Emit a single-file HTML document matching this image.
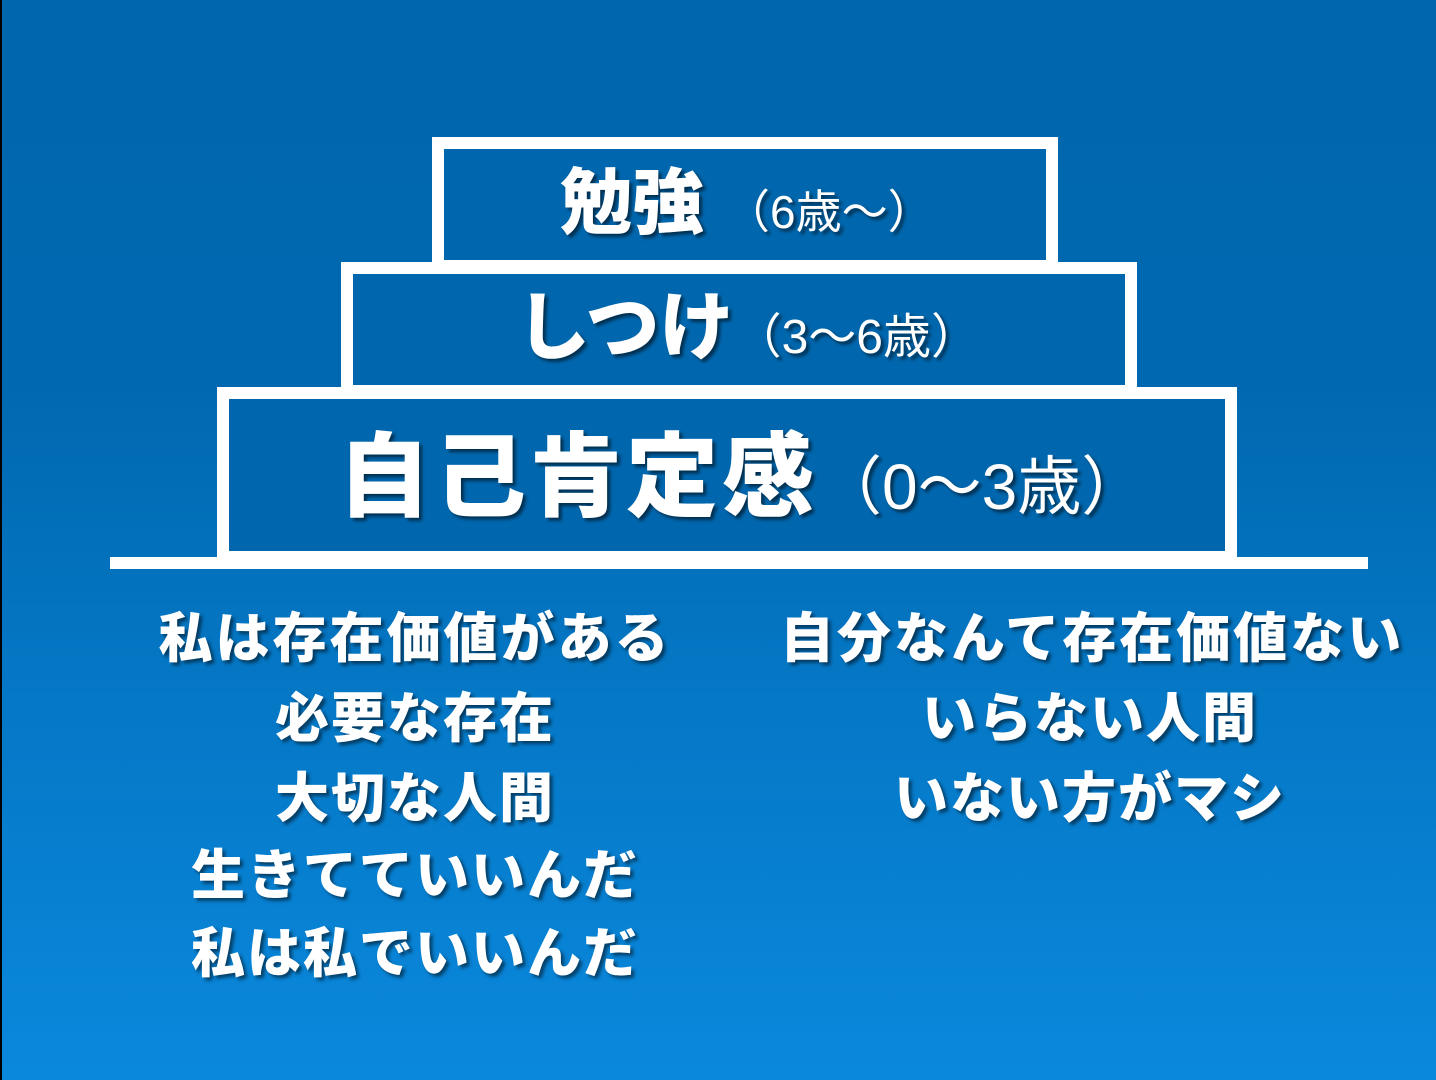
<!DOCTYPE html>
<html><head><meta charset="utf-8"><style>
body{margin:0;width:1436px;height:1080px;overflow:hidden;background:linear-gradient(180deg,#0067ae 0%,#0068b0 35%,#0578c6 65%,#0a88dc 100%);position:relative;font-family:"Liberation Sans","Noto Sans CJK JP",sans-serif;color:#fff}
.strip{position:absolute;left:0;top:0;width:2px;height:1080px;background:#000}
.box{position:absolute;border:12px solid #fff;background:#0067ae;box-sizing:border-box}
.t{position:absolute;white-space:nowrap;font-weight:900;text-shadow:3px 3px 3px rgba(0,0,0,.55)}
.l{position:absolute;width:600px;text-align:center;font-weight:900;font-size:54px;letter-spacing:2px;line-height:1;white-space:nowrap;text-shadow:3px 3px 3px rgba(0,0,0,.5)}
</style></head><body>
<div class="strip"></div>
<div class="box" style="left:432px;top:137px;width:626px;height:135px"></div>
<div class="box" style="left:341px;top:262px;width:796px;height:135px"></div>
<div class="box" style="left:217px;top:387px;width:1020px;height:176px"></div>
<div style="position:absolute;left:110px;top:557px;width:1258px;height:12px;background:#fff"></div>
<div class="t" style="left:560px;top:166px;font-size:72px;line-height:76px">勉強 <span style="font-size:46px;font-weight:400">（6歳～）</span></div>
<div class="t" style="left:516px;top:290px;font-size:74px;line-height:76px">しつけ<span style="font-size:48px;font-weight:400">（3～6歳）</span></div>
<div class="t" style="left:338px;top:428px;font-size:92px;line-height:100px;letter-spacing:4px">自己肯定感<span style="font-size:64px;font-weight:400;letter-spacing:0">（0～3歳）</span></div>
<div class="l" style="left:115px;top:612px;letter-spacing:3px">私は存在価値がある</div>
<div class="l" style="left:115px;top:692px">必要な存在</div>
<div class="l" style="left:115px;top:772px">大切な人間</div>
<div class="l" style="left:115px;top:849px">生きてていいんだ</div>
<div class="l" style="left:115px;top:927px">私は私でいいんだ</div>
<div class="l" style="left:780px;top:612px;letter-spacing:3px">自分なんて存在価値ない</div>
<div class="l" style="left:790px;top:692px">いらない人間</div>
<div class="l" style="left:790px;top:772px">いない方がマシ</div>
</body></html>
